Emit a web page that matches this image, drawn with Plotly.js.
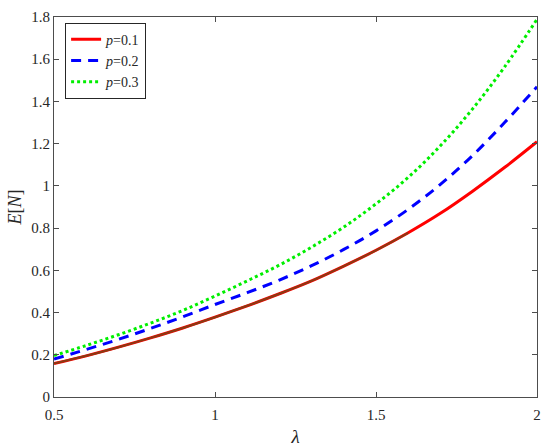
<!DOCTYPE html>
<html>
<head>
<meta charset="utf-8">
<script src="https://cdn.plot.ly/plotly-3.0.1.min.js"></script>
<style>
	html, body { margin: 0; padding: 0; background: #fff; }
	#plotDiv { width: 550px; height: 447px; }
</style>
</head>
<body>
<div id="plotDiv"></div>
<script>
// Values
const lambda = [0.5, 0.6, 0.7, 0.8, 0.9, 1.0, 1.1, 1.2, 1.3, 1.4, 1.5, 1.6, 1.7, 1.8, 1.9, 2.0];
const enP01 = [0.158, 0.195, 0.236, 0.28, 0.327, 0.378, 0.432, 0.489, 0.55, 0.62, 0.695, 0.778, 0.87, 0.975, 1.088, 1.209];
const enP02 = [0.18, 0.225, 0.273, 0.325, 0.38, 0.438, 0.494, 0.554, 0.622, 0.699, 0.787, 0.889, 1.007, 1.144, 1.301, 1.47];
const enP03 = [0.196, 0.244, 0.295, 0.35, 0.41, 0.478, 0.55, 0.625, 0.71, 0.805, 0.915, 1.04, 1.19, 1.365, 1.565, 1.789];
const seriesNames = ["<i>p</i>=0.1", "<i>p</i>=0.2", "<i>p</i>=0.3"];
// part of the p=0.1 curve that shows up darker (brownish) in the picture
const darkEnd = 1.6;

const font = "Times New Roman, Liberation Serif, serif";

const darkX = lambda.filter((x) => x <= darkEnd);
const darkY = enP01.slice(0, darkX.length);

const plotData = [
	{
		x: lambda, y: enP01, type: "scatter", mode: "lines", name: seriesNames[0],
		line: { color: "#ff0000", width: 3, dash: "solid", shape: "spline" },
	},
	{
		x: darkX, y: darkY, type: "scatter", mode: "lines", showlegend: false,
		hoverinfo: "skip",
		line: { color: "#8a3a12", width: 2, shape: "spline" },
	},
	{
		x: lambda, y: enP02, type: "scatter", mode: "lines", name: seriesNames[1],
		line: { color: "#0000ff", width: 3, dash: "10px,7px", shape: "spline" },
	},
	{
		x: lambda, y: enP03, type: "scatter", mode: "lines", name: seriesNames[2],
		line: { color: "#00ee00", width: 3, dash: "dot", shape: "spline" },
	},
];

const axisCommon = {
	showline: true,
	mirror: "ticks",
	linecolor: "#4d4d4d",
	linewidth: 1,
	ticks: "inside",
	ticklen: 5,
	tickcolor: "#4d4d4d",
	showgrid: false,
	zeroline: false,
	tickfont: { family: font, size: 15, color: "#262626" },
};

const layout = {
	width: 550,
	height: 447,
	margin: { l: 54, r: 13, t: 17, b: 50 },
	paper_bgcolor: "#ffffff",
	plot_bgcolor: "#ffffff",
	font: { family: font, color: "#262626" },
	xaxis: {
		...axisCommon,
		range: [0.5, 2],
		tickvals: [0.5, 1, 1.5, 2],
		ticktext: ["0.5", "1", "1.5", "2"],
		ticklabelstandoff: 4,
		title: { text: "<i>λ</i>", font: { family: font, size: 19, color: "#262626" }, standoff: 7 },
	},
	yaxis: {
		...axisCommon,
		range: [0, 1.8],
		tickvals: [0, 0.2, 0.4, 0.6, 0.8, 1, 1.2, 1.4, 1.6, 1.8],
		ticktext: ["0", "0.2", "0.4", "0.6", "0.8", "1", "1.2", "1.4", "1.6", "1.8"],
		title: { text: "<i>E</i>[<i>N</i>]", font: { family: font, size: 18, color: "#262626" }, standoff: 4 },
	},
	legend: {
		x: 0.023,
		y: 0.985,
		xanchor: "left",
		yanchor: "top",
		bgcolor: "#ffffff",
		bordercolor: "#262626",
		borderwidth: 1,
		font: { family: font, size: 14, color: "#262626" },
		tracegroupgap: 0,
		itemwidth: 30,
	},
	showlegend: true,
};

Plotly.newPlot("plotDiv", plotData, layout, { displayModeBar: false, staticPlot: true });
</script>
</body>
</html>
